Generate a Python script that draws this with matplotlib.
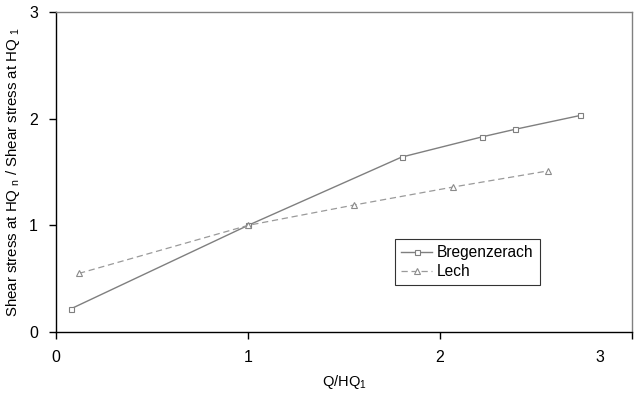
import matplotlib
matplotlib.use("Agg")
from matplotlib import pyplot as plt
import matplotlib.transforms as mtransforms

plt.rcParams['font.family'] = ['Liberation Sans', 'DejaVu Sans']
plt.rcParams['mathtext.fontset'] = 'custom'
plt.rcParams['mathtext.rm'] = 'Liberation Sans'
plt.rcParams['mathtext.it'] = 'Liberation Sans'

# Bregenzerach
breg_q = [0.08, 1.0, 1.80, 2.22, 2.39, 2.73]
breg_tau = [0.22, 1.0, 1.64, 1.83, 1.90, 2.03]

# Lech
lech_q = [0.12, 1.0, 1.55, 2.07, 2.56]
lech_tau = [0.55, 1.0, 1.19, 1.36, 1.51]

ticks = [0, 1, 2, 3]

fig = plt.figure(figsize=(6.35, 3.93), dpi=100)
ax = fig.add_axes([0.0882, 0.155, 0.9071, 0.8145])

ax.plot(breg_q, breg_tau, color='#7f7f7f', lw=1.0, marker='s', ms=3.6,
        mfc='white', mec='#7f7f7f', mew=0.8, label='Bregenzerach')
ax.plot(lech_q, lech_tau, color='#9a9a9a', lw=0.9, ls=(0, (5, 3)), marker='^',
        ms=3.8, mfc='white', mec='#8a8a8a', mew=0.8, label='Lech')

ax.set_xlim(0, 3)
ax.set_ylim(0, 3)
ax.set_xticks(ticks)
ax.set_yticks(ticks)
ax.tick_params(direction='out', length=5, width=1, labelsize=11.5, pad=8)

ax.spines['left'].set_color('black')
ax.spines['bottom'].set_color('black')
ax.spines['top'].set_color('#808080')
ax.spines['right'].set_color('#808080')
for s in ax.spines.values():
    s.set_linewidth(1.0)

ax.set_xlabel('Q/HQ$_{\\rm 1}$', fontsize=10.5, labelpad=6)
ax.set_ylabel('Shear stress at HQ $_{\\rm n}$ / Shear stress at HQ $_{\\rm 1}$',
              fontsize=10.8, labelpad=5)

# last x tick label sits inside the figure edge
lbl = ax.get_xticklabels()[-1]
lbl.set_transform(lbl.get_transform() + mtransforms.ScaledTranslation(-32 / 100, 0, fig.dpi_scale_trans))

leg = ax.legend(loc='upper left', bbox_to_anchor=(395 / 635, 1 - 239 / 393),
                bbox_transform=fig.transFigure, fontsize=11.2, frameon=True,
                fancybox=False, edgecolor='black', borderpad=0.4,
                handlelength=2.0, handletextpad=0.3, labelspacing=0.25,
                borderaxespad=0)
leg.get_frame().set_linewidth(0.8)

fig.savefig('out.png', dpi=100)
